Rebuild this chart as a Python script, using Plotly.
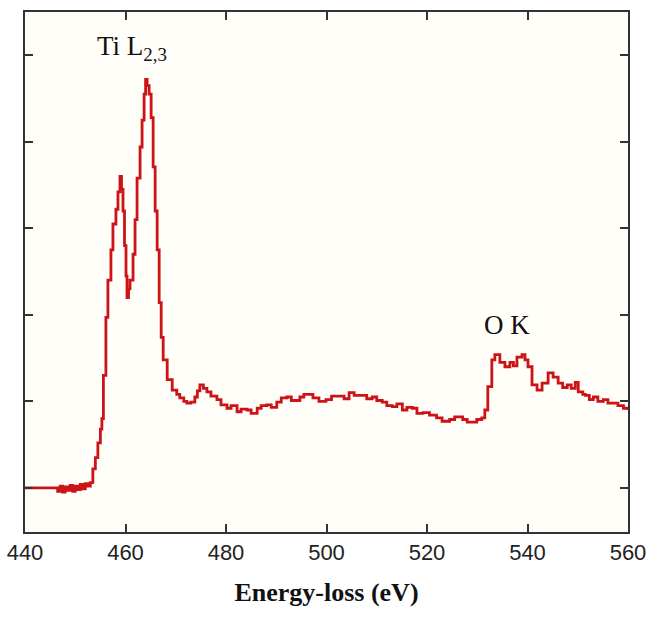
import plotly.graph_objects as go

energy = [440, 441, 442, 443, 444, 445, 446, 446.5, 447, 447.5, 448, 448.5, 449, 449.5, 450, 450.5,
          451, 451.5, 452, 452.5, 453, 453.5, 454, 454.5, 455, 455.3, 455.6, 456.1, 456.5, 457.1,
          457.5, 458.1, 458.5, 458.9, 459.2, 459.5, 459.8, 460.1, 460.3, 460.6, 460.9, 461.5, 461.9,
          462.3, 462.9, 463.3, 463.7, 464.0, 464.3, 464.7, 465.1, 465.5, 465.9, 466.3, 466.7, 467.1,
          467.5, 468.3, 469.3, 470.2, 470.8, 471.6, 472.2, 473.0, 473.8, 474.3, 474.8, 475.5, 476.2,
          477.0, 478.2, 479.0, 480.2, 481.0, 482.2, 483.0, 484.2, 485.0, 486.2, 487.0, 488.1, 489.0,
          490.1, 491.0, 492.1, 493.0, 494.7, 495.5, 497.3, 498.5, 499.9, 501.0, 502.5, 503.5, 504.5,
          505.5, 507.1, 508.0, 509.1, 510.0, 511.1, 512.0, 513.1, 514.0, 515.1, 516.0, 517.1, 518.0,
          519.2, 520.5, 521.9, 523.0, 524.5, 525.5, 527.1, 528.0, 529.9, 530.9, 531.5, 532.1, 532.9,
          533.5, 534.5, 535.5, 536.5, 537.2, 537.9, 538.9, 539.5, 540.1, 540.9, 541.9, 542.9, 544.1,
          545.1, 546.1, 547.0, 547.9, 548.7, 549.5, 550.1, 551.0, 551.5, 552.3, 553.1, 554.0, 555.1,
          556.0, 557.1, 558.0, 559.1, 560.0]
intensity = [0, 0, 0, 0, 0, 0, 0, -0.04, 0.02, -0.05, 0.01, -0.03, 0.03, -0.04, 0.02, -0.02,
             0.04, -0.01, 0.05, 0.02, 0.06, 0.22, 0.35, 0.52, 0.68, 0.8, 1.3, 1.97, 2.40, 2.75,
             3.05, 3.22, 3.42, 3.60, 3.45, 3.20, 2.80, 2.45, 2.20, 2.30, 2.40, 2.70, 3.10,
             3.58, 3.94, 4.25, 4.55, 4.72, 4.65, 4.55, 4.28, 3.71, 3.20, 2.75, 2.14, 1.74,
             1.48, 1.25, 1.13, 1.08, 1.04, 1.00, 0.98, 0.99, 1.05, 1.12, 1.19, 1.15, 1.11,
             1.06, 1.02, 0.96, 0.92, 0.95, 0.88, 0.91, 0.90, 0.86, 0.92, 0.95, 0.96, 0.93,
             0.99, 1.04, 1.05, 1.01, 1.05, 1.08, 1.04, 1.00, 1.02, 1.06, 1.06, 1.03, 1.10,
             1.07, 1.07, 1.03, 1.05, 1.01, 0.99, 0.95, 0.94, 0.97, 0.90, 0.93, 0.92, 0.86,
             0.87, 0.84, 0.81, 0.77, 0.79, 0.82, 0.79, 0.76, 0.79, 0.81, 0.90, 1.17, 1.48,
             1.54, 1.45, 1.40, 1.45, 1.41, 1.51, 1.54, 1.48, 1.40, 1.19, 1.13, 1.21, 1.33,
             1.28, 1.21, 1.16, 1.19, 1.15, 1.22, 1.11, 1.08, 1.07, 1.02, 1.05, 1.00, 1.02,
             0.98, 0.98, 0.95, 0.92, 0.90]

x_ticks = [440, 460, 480, 500, 520, 540, 560]
y_ticks = [0, 1, 2, 3, 4, 5]
peak_labels = ["Ti L<sub>2,3</sub>", "O K"]

fig = go.Figure()
fig.add_trace(go.Scatter(x=energy, y=intensity, mode="lines", line_shape="hv",
                         line=dict(color="#cc1418", width=2.8), showlegend=False))

fig.add_annotation(x=454.0, y=5.08, text=peak_labels[0], showarrow=False,
                   xanchor="left", yanchor="middle",
                   font=dict(family="Liberation Serif", size=27, color="#111"))
fig.add_annotation(x=536.0, y=1.88, text=peak_labels[1], showarrow=False,
                   xanchor="center", yanchor="middle",
                   font=dict(family="Liberation Serif", size=27, color="#111"))

axis_common = dict(showline=True, linecolor="#333", linewidth=2, mirror="ticks",
                   ticks="inside", ticklen=8, tickwidth=2, tickcolor="#333",
                   showgrid=False, zeroline=False, automargin=False)

fig.update_xaxes(range=[440, 560], tickvals=x_ticks, ticktext=[str(v) for v in x_ticks],
                 tickfont=dict(family="Liberation Sans", size=22, color="#222"),
                 title=dict(text="<b>Energy-loss (eV)</b>",
                            font=dict(family="Liberation Serif", size=26, color="#111"),
                            standoff=18),
                 **axis_common)
fig.update_yaxes(range=[-0.51, 5.5], tickvals=y_ticks, showticklabels=False, **axis_common)

fig.update_layout(width=647, height=620, margin=dict(l=25, r=19, t=12, b=88),
                  paper_bgcolor="white", plot_bgcolor="#fffef8")

fig.write_html("out.html", config={"displayModeBar": False},
               post_script="document.body.style.margin='0';document.body.style.overflow='hidden';")
